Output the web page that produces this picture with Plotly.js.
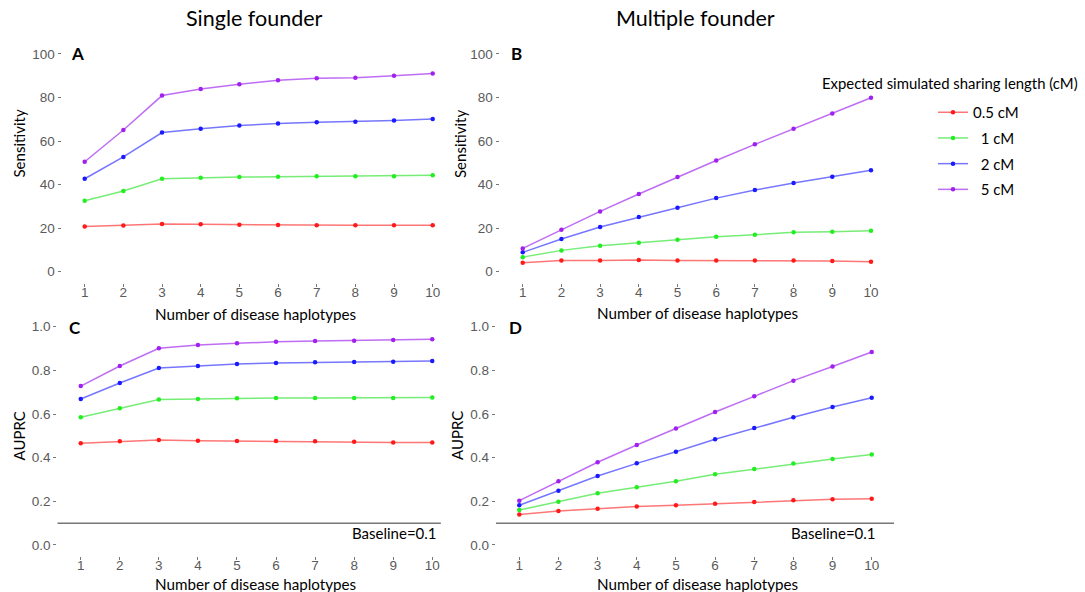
<!DOCTYPE html>
<html><head><meta charset="utf-8">
<script src="https://cdn.plot.ly/plotly-3.0.1.min.js"></script>
<style>html,body{margin:0;padding:0;background:#fff}</style>
</head><body><div id="chart" style="width:1085px;height:592px"></div>
<script>
// ---- data ----
const haplotypes = [1,2,3,4,5,6,7,8,9,10];
const seriesNames = ['0.5 cM', '\u00a0 1 cM', '\u00a0 2 cM', '\u00a0 5 cM'];
const seriesColors = ['#ff1a1a', '#22ee22', '#1a1aff', '#a020f0'];
const lineColors = ['rgba(255,60,60,0.7)', 'rgba(60,230,60,0.7)', 'rgba(60,60,255,0.7)', 'rgba(170,60,240,0.75)'];

const singleSens05 = [20.8, 21.2, 21.9, 21.8, 21.6, 21.5, 21.3, 21.3, 21.3, 21.3];
const singleSens1  = [32.6, 37.1, 42.7, 43.2, 43.5, 43.6, 43.8, 43.8, 43.9, 44.3];
const singleSens2  = [42.7, 52.7, 63.9, 65.7, 67.1, 68.1, 68.6, 68.9, 69.5, 70.1];
const singleSens5  = [50.5, 65.1, 80.9, 83.9, 86.1, 87.9, 88.8, 89.1, 90.0, 91.0];

const multiSens05 = [4.1, 5.1, 5.2, 5.4, 5.2, 5.2, 5.1, 5.1, 4.9, 4.6];
const multiSens1  = [6.7, 9.8, 11.9, 13.3, 14.7, 16.1, 17.0, 18.1, 18.4, 18.8];
const multiSens2  = [8.9, 15.0, 20.5, 25.1, 29.4, 33.8, 37.5, 40.7, 43.6, 46.6];
const multiSens5  = [10.7, 19.3, 27.7, 35.7, 43.5, 51.1, 58.5, 65.7, 72.7, 79.9];

const singleAuprc05 = [0.466, 0.475, 0.481, 0.478, 0.476, 0.476, 0.475, 0.473, 0.470, 0.470];
const singleAuprc1  = [0.585, 0.626, 0.667, 0.669, 0.672, 0.673, 0.673, 0.673, 0.673, 0.676];
const singleAuprc2  = [0.669, 0.742, 0.811, 0.820, 0.829, 0.834, 0.837, 0.838, 0.840, 0.843];
const singleAuprc5  = [0.728, 0.820, 0.901, 0.916, 0.924, 0.931, 0.934, 0.936, 0.939, 0.942];

const multiAuprc05 = [0.140, 0.156, 0.166, 0.176, 0.182, 0.189, 0.197, 0.205, 0.209, 0.212];
const multiAuprc1  = [0.160, 0.198, 0.237, 0.264, 0.292, 0.324, 0.348, 0.373, 0.394, 0.414];
const multiAuprc2  = [0.182, 0.249, 0.316, 0.374, 0.427, 0.484, 0.536, 0.585, 0.632, 0.675];
const multiAuprc5  = [0.203, 0.292, 0.379, 0.458, 0.534, 0.609, 0.681, 0.753, 0.818, 0.884];

const baselineAuprc = 0.1;
const sensTicks = [0, 20, 40, 60, 80, 100];
const auprcTicks = [0, 0.2, 0.4, 0.6, 0.8, 1.0];
const auprcTickText = ['0.0', '0.2', '0.4', '0.6', '0.8', '1.0'];

// ---- build ----
const panels = [
  {ax: '', series: [singleSens05, singleSens1, singleSens2, singleSens5], legend: false},
  {ax: '2', series: [multiSens05, multiSens1, multiSens2, multiSens5], legend: true},
  {ax: '3', series: [singleAuprc05, singleAuprc1, singleAuprc2, singleAuprc5], legend: false},
  {ax: '4', series: [multiAuprc05, multiAuprc1, multiAuprc2, multiAuprc5], legend: false}
];
const traces = [];
panels.forEach(p => {
  p.series.forEach((vals, i) => {
    traces.push({
      x: haplotypes, y: vals, type: 'scatter', mode: 'lines+markers',
      xaxis: 'x' + p.ax, yaxis: 'y' + p.ax,
      name: seriesNames[i], legendgroup: 'g' + i, showlegend: p.legend,
      line: {color: lineColors[i], width: 1.5},
      marker: {color: seriesColors[i], size: 4.5},
      hoverinfo: 'x+y'
    });
  });
});

const W = 1085, H = 592;
const px = v => v / W, py = v => 1 - v / H;
const tickFont = {family: 'Liberation Sans, Arial, sans-serif', size: 13.5, color: '#5a5a5a'};
function xax(l, r, anchor) {
  return {domain: [px(l), px(r)], range: [0.4, 10.6], anchor: anchor, tickvals: haplotypes,
    showgrid: false, zeroline: false, showline: false, ticks: 'outside', ticklen: 3, tickwidth: 1,
    tickcolor: '#777', tickfont: tickFont, fixedrange: true, ticklabelstandoff: -6};
}
function yax(t, b, anchor, range, tv, tt) {
  const o = {domain: [py(b), py(t)], range: range, anchor: anchor, tickvals: tv,
    showgrid: false, zeroline: false, showline: false, ticks: 'outside', ticklen: 3, tickwidth: 1,
    tickcolor: '#777', tickfont: tickFont, fixedrange: true};
  if (tt) o.ticktext = tt;
  return o;
}
const lbl = 'Lato, "Open Sans", sans-serif';
const ann = (text, x, y, size, opts) => Object.assign({text: text, xref: 'paper', yref: 'paper', x: px(x), y: py(y),
  showarrow: false, font: {family: lbl, size: size, color: '#000'}, xanchor: 'center', yanchor: 'middle'}, opts || {});

const layout = {
  width: W, height: H, margin: {l: 0, r: 0, t: 0, b: 0},
  paper_bgcolor: '#fff', plot_bgcolor: 'rgba(0,0,0,0)',
  xaxis: xax(61.5, 455.9, 'y'),
  yaxis: yax(43.1, 282.6, 'x', [-5, 105], sensTicks),
  xaxis2: xax(499.5, 894.2, 'y2'),
  yaxis2: yax(43.1, 282.6, 'x2', [-5, 105], sensTicks),
  xaxis3: xax(57.3, 455.7, 'y3'),
  yaxis3: yax(315.8, 555.9, 'x3', [-0.05, 1.05], auprcTicks, auprcTickText),
  xaxis4: xax(495.8, 895.2, 'y4'),
  yaxis4: yax(315.8, 555.9, 'x4', [-0.05, 1.05], auprcTicks, auprcTickText),
  showlegend: true,
  legend: {x: px(933), y: py(96), xanchor: 'left', yanchor: 'top', bgcolor: 'rgba(0,0,0,0)',
    font: {family: lbl, size: 15, color: '#000'}, itemwidth: 30, tracegroupgap: 3.2, traceorder: 'grouped'},
  shapes: [
    {type: 'line', xref: 'x3', yref: 'y3', x0: 0.4, x1: 10.22, y0: baselineAuprc, y1: baselineAuprc, line: {color: '#333', width: 1}},
    {type: 'line', xref: 'x4', yref: 'y4', x0: 0.4, x1: 10.57, y0: baselineAuprc, y1: baselineAuprc, line: {color: '#333', width: 1}}
  ],
  annotations: [
    ann('Single founder', 254.5, 18, 21.5),
    ann('Multiple founder', 695.7, 18, 21.5),
    ann('<b>A</b>', 77, 53.5, 17),
    ann('<b>B</b>', 516.5, 53.5, 17),
    ann('<b>C</b>', 74.5, 327.3, 17),
    ann('<b>D</b>', 515, 327.3, 17),
    ann('Number of disease haplotypes', 255, 313.5, 15.2),
    ann('Number of disease haplotypes', 697, 313, 15.2),
    ann('Number of disease haplotypes', 255, 583.5, 15.2),
    ann('Number of disease haplotypes', 697, 583.5, 15.2),
    ann('Sensitivity', 18.5, 144, 15, {textangle: -90}),
    ann('Sensitivity', 460, 144, 15, {textangle: -90}),
    ann('AUPRC', 18.5, 436, 15, {textangle: -90}),
    ann('AUPRC', 457, 436, 15, {textangle: -90}),
    ann('Baseline=0.1', 439.3, 533, 15, {xanchor: 'right'}),
    ann('Baseline=0.1', 878.3, 533, 15, {xanchor: 'right'}),
    ann('Expected simulated sharing length (cM)', 820, 83, 14.9, {xanchor: 'left'})
  ]
};
Plotly.newPlot('chart', traces, layout, {displayModeBar: false, staticPlot: true});
</script></body></html>
